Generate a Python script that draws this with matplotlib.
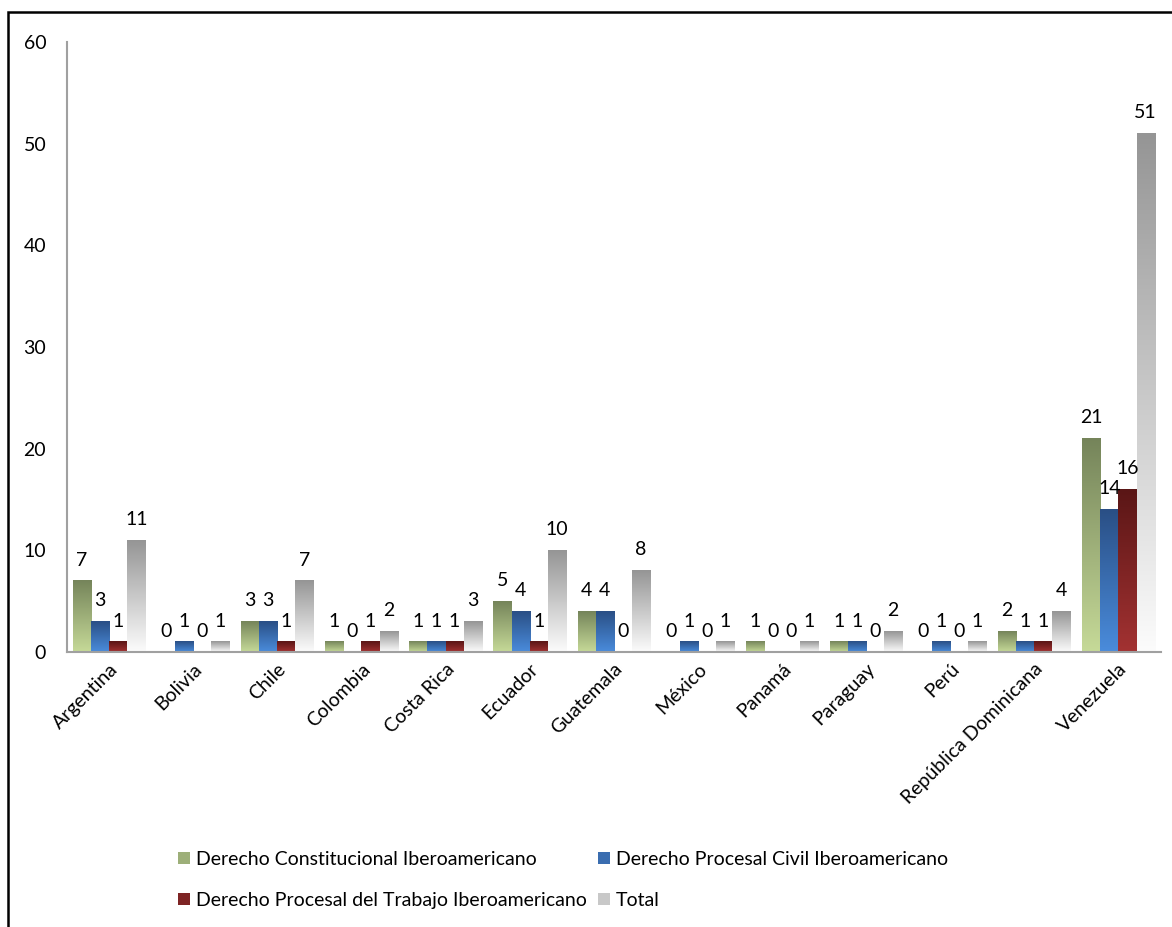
import matplotlib
matplotlib.use("Agg")
import matplotlib.pyplot as plt
import numpy as np
from matplotlib.colors import LinearSegmentedColormap
from matplotlib.patches import Patch, Rectangle

plt.rcParams['font.family'] = ['Lato', 'DejaVu Sans']

paises = ["Argentina", "Bolivia", "Chile", "Colombia", "Costa Rica", "Ecuador",
          "Guatemala", "México", "Panamá", "Paraguay", "Perú",
          "República Dominicana", "Venezuela"]
constitucional = [7, 0, 3, 1, 1, 5, 4, 0, 1, 1, 0, 2, 21]
procesal_civil = [3, 1, 3, 0, 1, 4, 4, 1, 0, 1, 1, 1, 14]
procesal_trabajo = [1, 0, 1, 1, 1, 1, 0, 0, 0, 0, 0, 1, 16]
total = [11, 1, 7, 2, 3, 10, 8, 1, 1, 2, 1, 4, 51]

series = [
    ("Derecho Constitucional Iberoamericano", constitucional, "#c6da98", "#75845a"),
    ("Derecho Procesal Civil Iberoamericano", procesal_civil, "#4a8cdc", "#2a4f85"),
    ("Derecho Procesal del Trabajo Iberoamericano", procesal_trabajo, "#a33232", "#5a1616"),
    ("Total", total, "#fcfcfc", "#959595"),
]

fs = 14
fig = plt.figure(figsize=(11.72, 9.27), dpi=100)
ax = fig.add_axes([0.0572, 0.2967, 0.933, 0.658])

x = np.arange(len(paises))
w = 0.215
grad = np.linspace(0, 1, 256).reshape(-1, 1)
handles = []
for i, (name, vals, c0, c1) in enumerate(series):
    cmap = LinearSegmentedColormap.from_list(name, [c0, c1])
    off = (i - 1.5) * w
    for xi, v in zip(x, vals):
        x0 = xi + off - w / 2
        if v > 0:
            ax.imshow(grad, extent=[x0, x0 + w, 0, v], origin='lower',
                      cmap=cmap, aspect='auto', zorder=2)
        ax.text(xi + off, v + 1.2, str(v), ha='center', va='bottom', fontsize=fs)
    handles.append(Patch(facecolor=cmap(0.5), edgecolor='none', label=name))

ax.set_xlim(-0.5, len(paises) - 0.5)
ax.set_ylim(0, 60)
ax.set_yticks(range(0, 61, 10))
ax.set_xticks(x)
ax.set_xticklabels(paises, rotation=45, ha='right', rotation_mode='anchor', fontsize=fs)
ax.tick_params(axis='both', length=0, labelsize=fs)
ax.tick_params(axis='y', pad=15)
ax.tick_params(axis='x', pad=6)
for s in ['top', 'right']:
    ax.spines[s].set_visible(False)
for s in ['left', 'bottom']:
    ax.spines[s].set_color('#a0a0a0')
    ax.spines[s].set_linewidth(1.5)

# matplotlib fills legend columns first: reorder so rows read like the original
orden = [handles[0], handles[2], handles[1], handles[3]]
fig.legend(handles=orden, ncol=2, loc='upper left',
           bbox_to_anchor=(0.137, 0.101), frameon=False, fontsize=fs,
           handlelength=0.6, handleheight=0.6, handletextpad=0.3,
           columnspacing=0.6, labelspacing=1.25)

fig.patches.append(Rectangle((8 / 1172, -0.1), 1.2, 1 - 12 / 927 + 0.1,
                             transform=fig.transFigure, fill=False,
                             edgecolor='black', linewidth=1.8))

fig.savefig("out.png", dpi=100)
